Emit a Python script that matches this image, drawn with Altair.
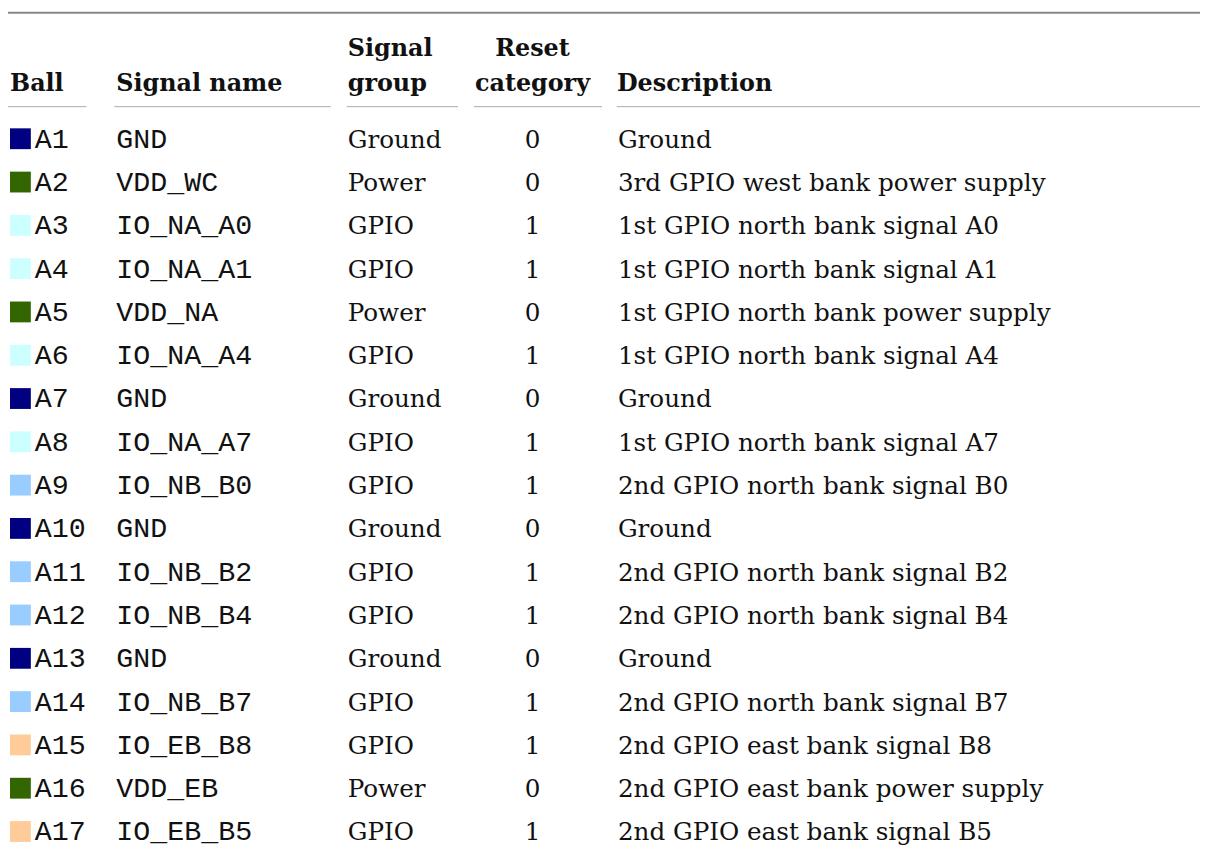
import altair as alt
import pandas as pd

balls = ["A1", "A2", "A3", "A4", "A5", "A6", "A7", "A8", "A9", "A10",
         "A11", "A12", "A13", "A14", "A15", "A16", "A17"]
signal_names = ["GND", "VDD_WC", "IO_NA_A0", "IO_NA_A1", "VDD_NA", "IO_NA_A4", "GND",
                "IO_NA_A7", "IO_NB_B0", "GND", "IO_NB_B2", "IO_NB_B4", "GND",
                "IO_NB_B7", "IO_EB_B8", "VDD_EB", "IO_EB_B5"]
signal_groups = ["Ground", "Power", "GPIO", "GPIO", "Power", "GPIO", "Ground", "GPIO",
                 "GPIO", "Ground", "GPIO", "GPIO", "Ground", "GPIO", "GPIO", "Power", "GPIO"]
reset_category = [0, 0, 1, 1, 0, 1, 0, 1, 1, 0, 1, 1, 0, 1, 1, 0, 1]
descriptions = ["Ground", "3rd GPIO west bank power supply", "1st GPIO north bank signal A0",
                "1st GPIO north bank signal A1", "1st GPIO north bank power supply",
                "1st GPIO north bank signal A4", "Ground", "1st GPIO north bank signal A7",
                "2nd GPIO north bank signal B0", "Ground", "2nd GPIO north bank signal B2",
                "2nd GPIO north bank signal B4", "Ground", "2nd GPIO north bank signal B7",
                "2nd GPIO east bank signal B8", "2nd GPIO east bank power supply",
                "2nd GPIO east bank signal B5"]
swatch = ["GND", "PWR", "NA", "NA", "PWR", "NA", "GND", "NA", "NB", "GND", "NB", "NB",
          "GND", "NB", "EB", "PWR", "EB"]
swatch_keys = ["GND", "PWR", "NA", "NB", "EB"]
swatch_colors = ["#000080", "#336600", "#ccffff", "#99ccff", "#ffcc99"]

header_line1 = ["", "", "Signal", "Reset", ""]
header_line2 = ["Ball", "Signal name", "group", "category", "Description"]

df = pd.DataFrame({
    "ball": balls,
    "name": signal_names,
    "group": signal_groups,
    "reset": reset_category,
    "desc": descriptions,
    "swatch": swatch,
})

SERIF = "DejaVu Serif"
MONO = "Liberation Mono"
TXT = "#111111"

y_enc = alt.Y("ball:N", sort=balls, axis=None,
              scale=alt.Scale(range=[107, 848], paddingInner=0, paddingOuter=0))

base = alt.Chart(df)

squares = base.mark_square(size=440, opacity=1, filled=True).encode(
    x=alt.value(12.5), y=y_enc,
    color=alt.Color("swatch:N", legend=None,
                    scale=alt.Scale(domain=swatch_keys, range=swatch_colors)))

def body_text(field, x, font, size, align="left"):
    return base.mark_text(font=font, fontSize=size, align=align, baseline="alphabetic",
                          dy=9, color=TXT).encode(x=alt.value(x), y=y_enc, text=f"{field}:N")

ball_txt = body_text("ball", 27, MONO, 28.5)
name_txt = body_text("name", 109, MONO, 28.5)
group_txt = body_text("group", 342, SERIF, 24.8)
reset_txt = body_text("reset", 528, SERIF, 24.8, align="center")
desc_txt = body_text("desc", 614, SERIF, 24.8)

hdr_x = [2, 109, 342, 528, 613]
hdr_align = ["left", "left", "left", "center", "left"]
hdr_layers = []
for i in range(5):
    for line, yv in ((header_line1, 45), (header_line2, 81)):
        if line[i]:
            hdr_layers.append(
                alt.Chart(alt.Data(values=[{"t": line[i]}])).mark_text(
                    font=SERIF, fontSize=24, fontWeight="bold", align=hdr_align[i],
                    baseline="alphabetic", color=TXT
                ).encode(x=alt.value(hdr_x[i]), y=alt.value(yv), text="t:N"))

one = alt.Data(values=[{"k": 0}])
top_rule = alt.Chart(one).mark_rule(color="#888888", strokeWidth=2).encode(
    x=alt.value(0), x2=alt.value(1200), y=alt.value(2))

under_spans = [(0, 79), (107, 325), (341, 453), (469, 598), (613, 1200)]
under_layers = [
    alt.Chart(one).mark_rule(color="#aaaaaa", strokeWidth=1).encode(
        x=alt.value(a), x2=alt.value(b), y=alt.value(96.5))
    for a, b in under_spans
]

chart = alt.layer(
    top_rule, *under_layers, *hdr_layers,
    squares, ball_txt, name_txt, group_txt, reset_txt, desc_txt
).properties(
    width=1200, height=844, padding=0,
    autosize=alt.AutoSizeParams(type="none"),
).configure_view(stroke=None)

chart.save("out.html", embed_options={"renderer": "svg", "actions": False})
